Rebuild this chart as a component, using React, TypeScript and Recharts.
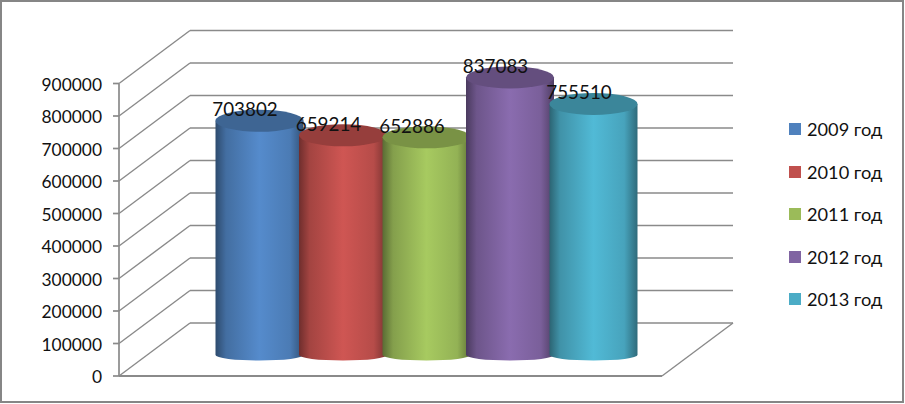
import React from "react";
import { Bar, BarChart, CartesianGrid, LabelList, Legend, XAxis, YAxis } from "recharts";

const years = ["2009 год", "2010 год", "2011 год", "2012 год", "2013 год"];
const totals = [703802, 659214, 652886, 837083, 755510];
const colors = ["#4F81BD", "#C0504D", "#9BBB59", "#8064A2", "#4BACC6"];
const yTicks = [0, 100000, 200000, 300000, 400000, 500000, 600000, 700000, 800000, 900000];

const chartData = [
  years.reduce<Record<string, string | number>>(
    (row, year, i) => {
      row[year] = totals[i];
      return row;
    },
    { category: "" }
  ),
];

const FONT = "Lato, 'Open Sans', sans-serif";
const LINE = "#8A8A8A";
const TEXT = "#111111";

// fake 3D: depth of the floor, bars stand halfway into it
const DEPTH_X = 71;
const DEPTH_Y = 53;
const BAR_SHIFT_X = DEPTH_X / 2;
const BAR_SHIFT_Y = DEPTH_Y / 2;
const RY = 11;
const AXIS_BOTTOM = 376;

// multiply a hex colour, factor above 1 lightens it
const shade = (hex: string, k: number) => {
  const part = (i: number) =>
    Math.min(255, Math.round(parseInt(hex.slice(i, i + 2), 16) * k))
      .toString(16)
      .padStart(2, "0");
  return `#${part(1)}${part(3)}${part(5)}`;
};

// each horizontal grid line becomes: diagonal on the side wall + line on the back wall
const WallLine = (props: any) => {
  const { x1, x2, y1 } = props;
  const backY = y1 - DEPTH_Y;
  const isFloor = Math.abs(y1 - AXIS_BOTTOM) < 1;
  return (
    <g>
      <line x1={x1} y1={y1} x2={x1 + DEPTH_X} y2={backY} stroke={LINE} strokeWidth={1.4} />
      <line x1={x1 + DEPTH_X} y1={backY} x2={x2 + DEPTH_X} y2={backY} stroke={LINE} strokeWidth={1.7} />
      {isFloor && (
        <>
          <line x1={x2} y1={y1} x2={x2 + DEPTH_X} y2={backY} stroke={LINE} strokeWidth={1.4} />
          <line x1={x1} y1={y1} x2={x2} y2={y1} stroke={LINE} strokeWidth={1.8} />
        </>
      )}
    </g>
  );
};

const Cylinder = (props: any) => {
  const { x, y, width, height, fill } = props;
  const left = x + BAR_SHIFT_X;
  const right = left + width;
  const top = y - BAR_SHIFT_Y;
  const bottom = top + height;
  const rx = width / 2;
  const id = `cyl-${fill.slice(1)}`;
  return (
    <g>
      <defs>
        <linearGradient id={id} x1="0" y1="0" x2="1" y2="0">
          <stop offset="0%" stopColor={shade(fill, 0.58)} />
          <stop offset="12%" stopColor={shade(fill, 0.85)} />
          <stop offset="50%" stopColor={shade(fill, 1.08)} />
          <stop offset="85%" stopColor={shade(fill, 0.95)} />
          <stop offset="100%" stopColor={shade(fill, 0.62)} />
        </linearGradient>
      </defs>
      <path
        d={`M${left},${top} L${left},${bottom + RY / 2} A${rx},${RY / 2} 0 0 0 ${right},${bottom + RY / 2} L${right},${top} Z`}
        fill={`url(#${id})`}
      />
      <ellipse cx={left + rx} cy={top} rx={rx} ry={RY} fill={shade(fill, 0.78)} />
    </g>
  );
};

const ValueLabel = (props: any) => {
  const { x, y, width, value } = props;
  return (
    <text
      x={x + width / 2 + BAR_SHIFT_X - 14.5}
      y={y - BAR_SHIFT_Y - 4.5}
      textAnchor="middle"
      fontFamily={FONT}
      fontSize={18.8}
      fill={TEXT}
    >
      {value}
    </text>
  );
};

const LegendList = ({ payload }: any) => (
  <div style={{ fontFamily: FONT, fontSize: 18.2, color: TEXT }}>
    {(payload || []).map((item: any) => (
      <div key={item.value} style={{ display: "flex", alignItems: "center", height: 42.5 }}>
        <span style={{ width: 12, height: 12, background: item.color, marginRight: 6 }} />
        <span style={{ whiteSpace: "nowrap" }}>{item.value}</span>
      </div>
    ))}
  </div>
);

export default function App() {
  return (
    <div
      style={{
        position: "absolute",
        left: 0,
        top: 0,
        width: 904,
        height: 403,
        boxSizing: "border-box",
        border: "2px solid #868686",
        background: "#fff",
      }}
    >
      <div style={{ position: "absolute", left: -2, top: -2 }}>
        <BarChart
          width={905}
          height={404}
          data={chartData}
          margin={{ top: 83.5, right: 133, bottom: 27, left: 0 }}
          barSize={88}
          barGap={-4.5}
        >
          <CartesianGrid vertical={false} horizontal={<WallLine />} />
          <XAxis dataKey="category" height={1} tick={false} tickLine={false} axisLine={false} />
          <YAxis
            width={119}
            domain={[0, 900000]}
            ticks={yTicks}
            interval={0}
            tickSize={6}
            tickMargin={11}
            stroke={LINE}
            strokeWidth={1.7}
            dy={1}
            tick={{ fontFamily: FONT, fontSize: 17.4, fill: TEXT, strokeWidth: 0 }}
          />
          <Legend
            layout="vertical"
            align="right"
            verticalAlign="top"
            content={<LegendList />}
            wrapperStyle={{ left: 789, top: 108, width: 110 }}
          />
          {years.map((year, i) => (
            <Bar
              key={year}
              dataKey={year}
              fill={colors[i]}
              shape={<Cylinder />}
              isAnimationActive={false}
            >
              <LabelList dataKey={year} content={<ValueLabel />} />
            </Bar>
          ))}
        </BarChart>
      </div>
    </div>
  );
}
